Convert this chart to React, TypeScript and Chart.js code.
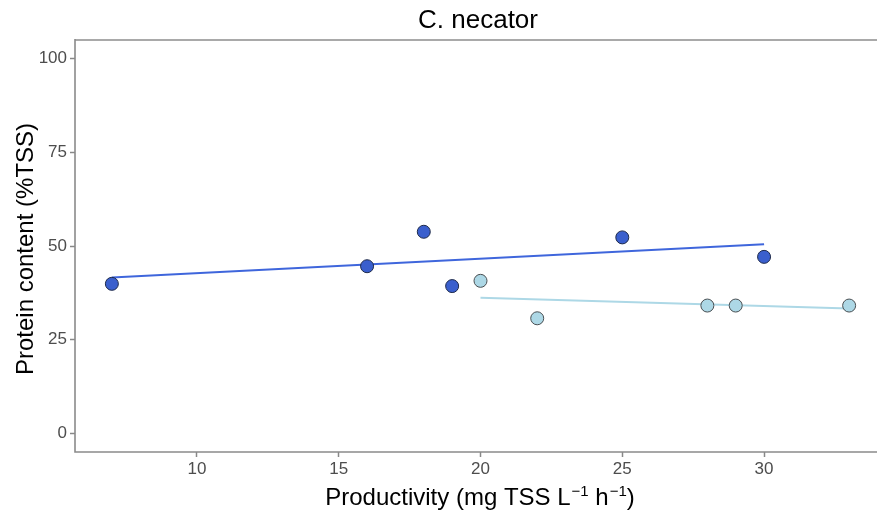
import { useEffect, useRef } from "react";
import { Chart, registerables } from "chart.js";

Chart.register(...registerables);

// ---- data ----
const titleText = "C. necator";
const yTitleText = "Protein content (%TSS)";
const xTicks = [10, 15, 20, 25, 30];
const yTicks = [0, 25, 50, 75, 100];

const darkX = [7, 16, 18, 19, 25, 30];
const darkY = [39.9, 44.6, 53.8, 39.3, 52.3, 47.1];
const lightX = [20, 22, 28, 29, 33];
const lightY = [40.7, 30.7, 34.1, 34.1, 34.1];

const darkFitX = [7, 30];
const darkFitY = [41.6, 50.5];
const lightFitX = [20, 33];
const lightFitY = [36.2, 33.3];

const toPts = (xs: number[], ys: number[]) => xs.map((x, i) => ({ x, y: ys[i] }));

const FONT = "'Liberation Sans', Arial, sans-serif";

export default function App() {
  const ref = useRef<HTMLCanvasElement | null>(null);

  useEffect(() => {
    if (!ref.current) return;

    const framePlugin = {
      id: "frame",
      beforeDatasetsDraw(chart: any) {
        const { ctx, chartArea } = chart;
        const { left, right, top, bottom } = chartArea;
        ctx.save();
        ctx.strokeStyle = "#a9a9a9";
        ctx.lineWidth = 2;
        ctx.beginPath();
        ctx.moveTo(left, top);
        ctx.lineTo(right + 5, top);
        ctx.stroke();
        ctx.strokeStyle = "#8a8a8a";
        ctx.lineWidth = 1.6;
        ctx.beginPath();
        ctx.moveTo(left, top - 1);
        ctx.lineTo(left, bottom);
        ctx.lineTo(right + 5, bottom);
        ctx.stroke();
        ctx.restore();
      },
    };

    const textPlugin = {
      id: "texts",
      afterDraw(chart: any) {
        const { ctx } = chart;
        ctx.save();
        ctx.fillStyle = "#000000";
        // title
        ctx.font = `26px ${FONT}`;
        ctx.textAlign = "center";
        ctx.textBaseline = "alphabetic";
        ctx.fillText(titleText, 478, 28);

        // y title
        ctx.save();
        ctx.translate(33, 249);
        ctx.rotate(-Math.PI / 2);
        ctx.font = `24px ${FONT}`;
        ctx.textAlign = "center";
        ctx.fillText(yTitleText, 0, 0);
        ctx.restore();

        // x title with superscripts
        const parts: { t: string; sup: boolean }[] = [
          { t: "Productivity (mg TSS L", sup: false },
          { t: "\u22121", sup: true },
          { t: " h", sup: false },
          { t: "\u22121", sup: true },
          { t: ")", sup: false },
        ];
        const mainFont = `24px ${FONT}`;
        const supFont = `15px ${FONT}`;
        let total = 0;
        const widths = parts.map((p) => {
          ctx.font = p.sup ? supFont : mainFont;
          const w = ctx.measureText(p.t).width + (p.sup ? 1 : 0);
          total += w;
          return w;
        });
        let x = 480 - total / 2;
        ctx.textAlign = "left";
        parts.forEach((p, i) => {
          ctx.font = p.sup ? supFont : mainFont;
          ctx.fillText(p.t, x + (p.sup ? 1 : 0), p.sup ? 496 : 505);
          x += widths[i];
        });
        ctx.restore();
      },
    };

    const chart = new Chart(ref.current, {
      type: "scatter",
      data: {
        datasets: [
          {
            label: "dark fit",
            data: toPts(darkFitX, darkFitY),
            showLine: true,
            borderColor: "#3f66dc",
            borderWidth: 2,
            pointRadius: 0,
            order: 2,
          },
          {
            label: "light fit",
            data: toPts(lightFitX, lightFitY),
            showLine: true,
            borderColor: "#add8e6",
            borderWidth: 2,
            pointRadius: 0,
            order: 2,
          },
          {
            label: "dark",
            data: toPts(darkX, darkY),
            backgroundColor: "#3a5fcd",
            borderColor: "#1e2a4a",
            borderWidth: 1,
            pointRadius: 6.5,
            order: 1,
          },
          {
            label: "light",
            data: toPts(lightX, lightY),
            backgroundColor: "#add8e6",
            borderColor: "#4a4f52",
            borderWidth: 1,
            pointRadius: 6.5,
            order: 1,
          },
        ],
      },
      options: {
        animation: false,
        responsive: false,
        devicePixelRatio: 1,
        layout: { autoPadding: false, padding: { top: 40, right: 1, left: 0, bottom: 0 } },
        plugins: {
          legend: { display: false },
          tooltip: { enabled: false },
          title: { display: false },
        },
        scales: {
          x: {
            type: "linear",
            min: 5.7,
            max: 34.3,
            afterFit: (s: any) => {
              s.height = 61;
              s.paddingLeft = 0;
              s.paddingRight = 0;
            },
            afterBuildTicks: (s: any) => {
              s.ticks = xTicks.map((v) => ({ value: v }));
            },
            grid: {
              display: true,
              drawOnChartArea: false,
              drawTicks: true,
              tickLength: 5,
              tickColor: "#888888",
              tickWidth: 1.5,
            },
            border: { display: false },
            ticks: {
              color: "#4d4d4d",
              font: { family: FONT, size: 17 },
              padding: 2,
              maxRotation: 0,
              autoSkip: false,
            },
          },
          y: {
            type: "linear",
            min: -5,
            max: 105,
            afterFit: (s: any) => {
              s.width = 75;
              s.paddingTop = 0;
              s.paddingBottom = 0;
            },
            afterBuildTicks: (s: any) => {
              s.ticks = yTicks.map((v) => ({ value: v }));
            },
            grid: {
              display: true,
              drawOnChartArea: false,
              drawTicks: true,
              tickLength: 5,
              tickColor: "#888888",
              tickWidth: 1.5,
            },
            border: { display: false },
            ticks: {
              color: "#4d4d4d",
              font: { family: FONT, size: 17 },
              padding: 3,
              autoSkip: false,
            },
          },
        },
      },
      plugins: [framePlugin, textPlugin],
    } as any);

    return () => chart.destroy();
  }, []);

  return (
    <div
      style={{
        position: "absolute",
        left: 0,
        top: 0,
        width: 877,
        height: 513,
        overflow: "hidden",
        background: "#ffffff",
      }}
    >
      <canvas ref={ref} width={887} height={513} style={{ width: 887, height: 513, display: "block" }} />
    </div>
  );
}
